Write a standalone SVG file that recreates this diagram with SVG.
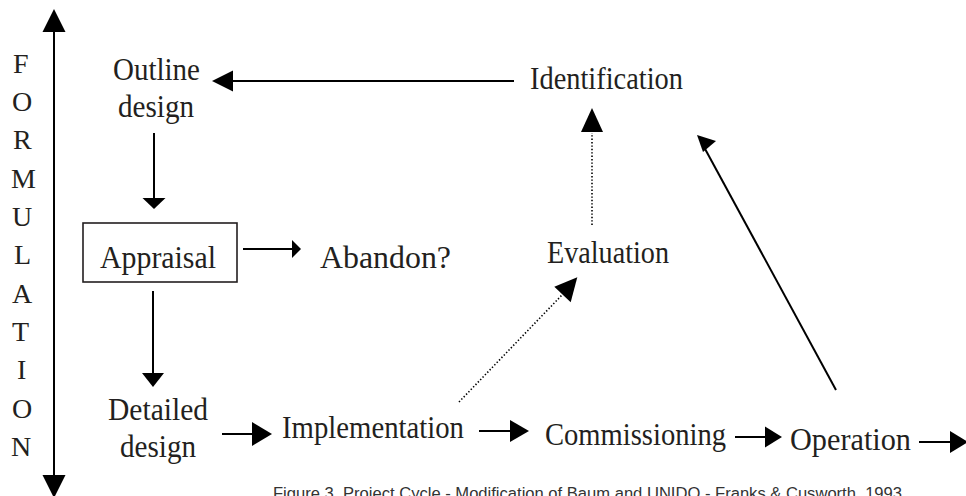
<svg xmlns="http://www.w3.org/2000/svg" width="966" height="496" viewBox="0 0 966 496">
  <style>
    .lbl { font-family: "Liberation Serif", "Times New Roman", serif; font-size: 28px; fill: #231f20; }
    .side { font-family: "Liberation Serif", "Times New Roman", serif; font-size: 28px; fill: #231f20; }
    .cap { font-family: "Liberation Sans", Arial, sans-serif; font-size: 16px; fill: #333; }
    .ln { stroke: #000; stroke-width: 2; fill: none; }
    .dot { stroke: #000; stroke-width: 1.6; fill: none; stroke-dasharray: 1.4 2; }
    .head { fill: #000; stroke: none; }
    .box { fill: #fff; stroke: #231f20; stroke-width: 1.6; }
  </style>

  <!-- Formulation axis -->
  <g id="axis">
    <line class="ln" x1="54" y1="30" x2="54" y2="478"/>
    <polygon class="head" points="54,9 65.5,32 42.5,32"/>
    <polygon class="head" points="54,498 65.5,475 42.5,475"/>
    <g class="side">
      <text x="13" y="72.5">F</text>
      <text x="12" y="111">O</text>
      <text x="13" y="149">R</text>
      <text x="11" y="187.5">M</text>
      <text x="12" y="226">U</text>
      <text x="14" y="264">L</text>
      <text x="12" y="302.5">A</text>
      <text x="12" y="341">T</text>
      <text x="17" y="379">I</text>
      <text x="12" y="417.5">O</text>
      <text x="11" y="456">N</text>
    </g>
  </g>

  <!-- Connectors -->
  <g id="connectors">
    <!-- Identification to Outline design -->
    <line class="ln" x1="514" y1="81" x2="230" y2="81"/>
    <polygon class="head" points="212,81 233,70.5 233,91.5"/>
    <!-- Outline design to Appraisal -->
    <line class="ln" x1="154" y1="133" x2="154" y2="199"/>
    <polygon class="head" points="154,209 142.5,198 165.5,198"/>
    <!-- Appraisal to Abandon? -->
    <line class="ln" x1="243" y1="249" x2="294" y2="249"/>
    <polygon class="head" points="301,249 292,240 292,258"/>
    <!-- Appraisal to Detailed design -->
    <line class="ln" x1="153" y1="291" x2="153" y2="374"/>
    <polygon class="head" points="153,387 142,373 164,373"/>
    <!-- Detailed design to Implementation -->
    <line class="ln" x1="222" y1="434" x2="253" y2="434"/>
    <polygon class="head" points="272,434 252,422 252,446"/>
    <!-- Implementation to Commissioning -->
    <line class="ln" x1="479" y1="431" x2="511" y2="431"/>
    <polygon class="head" points="529,431 510,420 510,442"/>
    <!-- Commissioning to Operation -->
    <line class="ln" x1="735" y1="437" x2="766" y2="437"/>
    <polygon class="head" points="782,437 765,426.5 765,447.5"/>
    <!-- Operation onwards -->
    <line class="ln" x1="919" y1="442" x2="951" y2="442"/>
    <polygon class="head" points="968,442 950,431 950,453"/>
    <!-- Operation back to Identification -->
    <line class="ln" x1="836" y1="390" x2="704" y2="147"/>
    <polygon class="head" points="697,135 716,141 703,152"/>
    <!-- Evaluation to Identification (dotted) -->
    <line class="dot" x1="592" y1="225" x2="592" y2="133"/>
    <polygon class="head" points="592,108 603,132 581,132"/>
    <!-- Implementation to Evaluation (dotted) -->
    <line class="dot" x1="459" y1="402" x2="562" y2="295"/>
    <polygon class="head" points="577.3,277.3 554.3,286.7 570.7,302.3"/>
  </g>

  <!-- Nodes -->
  <g id="outline-design" class="lbl">
    <text transform="translate(113 80) scale(1 1.12)" textLength="87" lengthAdjust="spacingAndGlyphs">Outline</text>
    <text transform="translate(118 117) scale(1 1.12)" textLength="76" lengthAdjust="spacingAndGlyphs">design</text>
  </g>
  <g id="identification" class="lbl">
    <text transform="translate(530 89) scale(1 1.16)" textLength="153" lengthAdjust="spacingAndGlyphs">Identification</text>
  </g>
  <g id="appraisal">
    <rect class="box" x="83" y="223" width="154" height="59"/>
    <text class="lbl" transform="translate(100 268) scale(1 1.14)" textLength="116" lengthAdjust="spacingAndGlyphs">Appraisal</text>
  </g>
  <g id="abandon" class="lbl">
    <text transform="translate(320 268) scale(1 1.14)" textLength="131" lengthAdjust="spacingAndGlyphs">Abandon?</text>
  </g>
  <g id="evaluation" class="lbl">
    <text transform="translate(547 263) scale(1 1.14)" textLength="122" lengthAdjust="spacingAndGlyphs">Evaluation</text>
  </g>
  <g id="detailed-design" class="lbl">
    <text transform="translate(108 420) scale(1 1.14)" textLength="100" lengthAdjust="spacingAndGlyphs">Detailed</text>
    <text transform="translate(120 457) scale(1 1.14)" textLength="76" lengthAdjust="spacingAndGlyphs">design</text>
  </g>
  <g id="implementation" class="lbl">
    <text transform="translate(282 438) scale(1 1.16)" textLength="182" lengthAdjust="spacingAndGlyphs">Implementation</text>
  </g>
  <g id="commissioning" class="lbl">
    <text transform="translate(545 445) scale(1 1.14)" textLength="181" lengthAdjust="spacingAndGlyphs">Commissioning</text>
  </g>
  <g id="operation" class="lbl">
    <text transform="translate(790 450) scale(1 1.14)" textLength="121" lengthAdjust="spacingAndGlyphs">Operation</text>
  </g>

  <!-- Caption -->
  <text class="cap" x="273" y="499" textLength="629" lengthAdjust="spacingAndGlyphs">Figure 3. Project Cycle - Modification of Baum and UNIDO - Franks &amp; Cusworth, 1993</text>
</svg>
